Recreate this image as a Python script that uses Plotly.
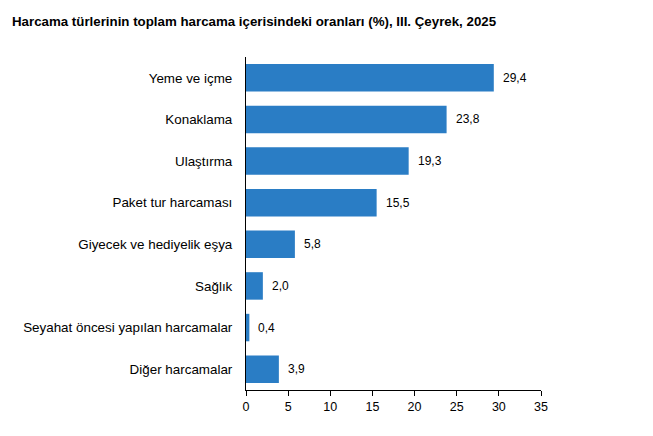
import plotly.graph_objects as go

categories = [
    "Yeme ve içme",
    "Konaklama",
    "Ulaştırma",
    "Paket tur harcaması",
    "Giyecek ve hediyelik eşya",
    "Sağlık",
    "Seyahat öncesi yapılan harcamalar",
    "Diğer harcamalar",
]
values = [29.4, 23.8, 19.3, 15.5, 5.8, 2.0, 0.4, 3.9]
value_labels = ["29,4", "23,8", "19,3", "15,5", "5,8", "2,0", "0,4", "3,9"]
x_ticks = [0, 5, 10, 15, 20, 25, 30, 35]

bar_color = "#2a7dc5"
font_family = "Arial, Liberation Sans, sans-serif"

# page has an 8px body margin, so the figure is sized to fit inside it
W, H = 645, 428

fig = go.Figure()
fig.add_trace(go.Bar(
    x=values, y=categories, orientation="h",
    marker=dict(color=bar_color, line=dict(width=0)),
    hoverinfo="x+y",
))

# value labels just right of each bar
for cat, val, lab in zip(categories, values, value_labels):
    fig.add_annotation(x=val, y=cat, text=lab, showarrow=False,
                       xanchor="left", xshift=7,
                       font=dict(size=12, color="#000000", family=font_family))

fig.update_layout(
    width=W, height=H,
    margin=dict(l=238, r=112, t=49, b=46, autoexpand=False),
    paper_bgcolor="white", plot_bgcolor="white",
    bargap=0.34,
    showlegend=False,
    font=dict(family=font_family, size=12, color="#000000"),
    title=dict(
        text="<b>Harcama türlerinin toplam harcama içerisindeki oranları (%), III. Çeyrek, 2025</b>",
        x=4 / W, xanchor="left", y=1 - 13 / H, yanchor="middle",
        font=dict(size=13.3, family=font_family, color="#000000"),
    ),
)
fig.update_xaxes(
    range=[0, 35], tickvals=x_ticks, ticktext=[str(t) for t in x_ticks],
    showgrid=False, zeroline=False,
    showline=True, linecolor="#000000", linewidth=1,
    ticks="outside", ticklen=5, tickcolor="#000000",
    tickfont=dict(size=12.5), automargin=False,
)
fig.update_yaxes(
    categoryorder="array", categoryarray=categories, autorange="reversed",
    showgrid=False, zeroline=False,
    showline=True, linecolor="#000000", linewidth=1,
    ticks="", ticklabelstandoff=10,
    tickfont=dict(size=13.4), automargin=False,
)

fig.write_html("out.html")
